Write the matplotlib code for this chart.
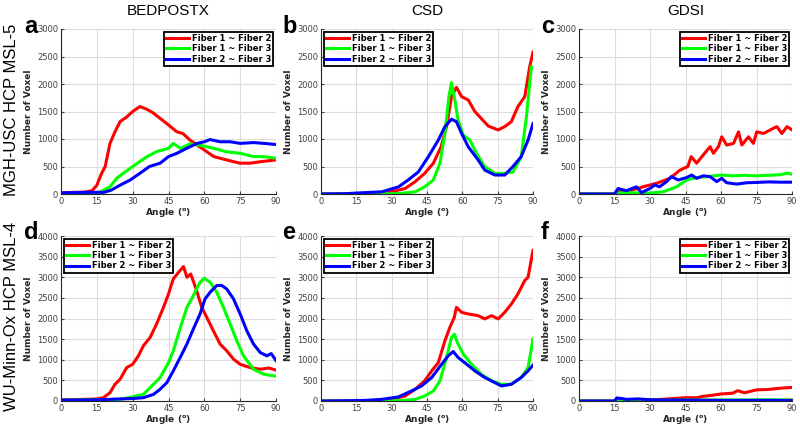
import matplotlib
matplotlib.use('Agg')
import matplotlib.pyplot as plt

# Werte (Winkel in Grad, Anzahl Voxel)
methods = ['BEDPOSTX', 'CSD', 'GDSI']
datasets = ['MGH-USC HCP MSL-5', 'WU-Minn-Ox HCP MSL-4']
labels = ['Fiber 1 ~ Fiber 2', 'Fiber 1 ~ Fiber 3', 'Fiber 2 ~ Fiber 3']
letters = ['a', 'b', 'c', 'd', 'e', 'f']
x_ticks = [0, 15, 30, 45, 60, 75, 90]

# a: BEDPOSTX, MSL-5
a_red_x = [0, 5, 10, 13, 15, 17, 18.5, 20.5, 22.6, 24.7, 27.5, 30, 33, 36, 38.7, 41.5, 45, 48.5, 51, 54, 57, 60, 64, 66.6, 72, 75, 79, 84, 90]
a_red_y = [20, 30, 35, 60, 160, 375, 500, 920, 1130, 1315, 1400, 1500, 1590, 1540, 1470, 1375, 1255, 1130, 1100, 980, 890, 800, 680, 650, 590, 560, 560, 590, 620]
a_green_x = [0, 10, 15, 17, 20.5, 23.3, 26, 30, 33, 36, 40, 45, 47, 50, 54, 58, 64, 69, 75, 80.6, 85, 90]
a_green_y = [0, 10, 20, 50, 130, 285, 375, 500, 590, 680, 770, 830, 920, 830, 910, 890, 830, 770, 740, 680, 680, 650]
a_blue_x = [0, 10, 18, 21, 24.7, 29, 33, 37, 41.5, 45, 48.5, 52.6, 57, 60, 62.4, 66.6, 70.8, 75, 80.6, 85, 90]
a_blue_y = [20, 30, 30, 70, 160, 255, 375, 500, 560, 680, 740, 830, 920, 950, 990, 950, 950, 920, 935, 920, 900]

# b: CSD, MSL-5
b_red_x = [0, 20, 25, 30, 35.7, 40, 44, 47.7, 51, 53.3, 55.4, 57.5, 59.7, 62.5, 65.3, 68, 71, 75.2, 78, 80.8, 83.6, 86.5, 88.6, 90]
b_red_y = [0, 5, 15, 40, 100, 225, 375, 560, 860, 1225, 1770, 1940, 1770, 1710, 1500, 1375, 1235, 1165, 1225, 1315, 1590, 1770, 2315, 2580]
b_green_x = [0, 30, 35, 40, 44, 47.7, 50.5, 52.6, 54.3, 55.4, 56.8, 58.2, 60.4, 63.2, 66, 69.5, 73.8, 78, 81.5, 85, 87.2, 89.3, 90]
b_green_y = [0, 5, 15, 40, 130, 255, 560, 1100, 1770, 2025, 1710, 1345, 1070, 980, 740, 500, 375, 375, 400, 680, 1400, 2315, 2300]
b_blue_x = [0, 10, 18.8, 25.8, 32.9, 37, 41.3, 45.6, 49.8, 52.6, 55.4, 57.5, 59.7, 62.5, 66.7, 69.5, 73.8, 78, 81.5, 85, 87.9, 90]
b_blue_y = [0, 5, 25, 40, 130, 255, 400, 680, 980, 1225, 1360, 1315, 1100, 860, 620, 435, 345, 345, 500, 680, 980, 1280]

# c: GDSI, MSL-5
c_red_x = [0, 15, 15.8, 21.5, 27, 32.8, 38.4, 42.7, 46, 47.4, 49.7, 52.5, 55.4, 56.8, 58.9, 60.3, 62.4, 65.3, 67.4, 68.8, 71.6, 73.7, 75.1, 78, 80.8, 83.6, 85.7, 87.9, 90]
c_red_y = [0, 0, 40, 60, 130, 195, 285, 435, 500, 680, 560, 710, 860, 740, 860, 1040, 890, 920, 1130, 890, 1040, 920, 1130, 1100, 1165, 1225, 1100, 1225, 1165]
c_green_x = [0, 15, 17, 21.5, 28.5, 35.6, 41.2, 45.5, 49.7, 54, 60, 65, 70, 75, 80, 85, 88, 90]
c_green_y = [0, 0, 20, 25, 10, 40, 130, 255, 300, 315, 345, 330, 340, 330, 340, 350, 380, 360]
c_blue_x = [0, 15, 16.5, 20, 24.3, 26.4, 30, 32, 34, 37, 39, 42, 45.5, 47.6, 49.7, 52.5, 55.4, 58.2, 60.3, 62.4, 66.7, 70.9, 75, 80, 85, 90]
c_blue_y = [0, 0, 100, 60, 130, 25, 100, 165, 130, 225, 315, 255, 300, 345, 285, 330, 315, 225, 285, 205, 180, 205, 210, 220, 215, 215]

# d: BEDPOSTX, MSL-4
d_red_x = [0, 10, 15, 17.7, 20.5, 22.6, 24.7, 27.5, 30, 32.4, 34.5, 37.3, 40, 42.9, 45, 47, 49.2, 51.3, 52.7, 54.3, 56.8, 58.9, 61, 63.8, 66.6, 69.4, 72.2, 75, 79.2, 83.4, 87, 90]
d_red_y = [30, 40, 50, 80, 200, 405, 525, 810, 890, 1095, 1340, 1540, 1865, 2270, 2595, 2960, 3120, 3260, 3000, 3080, 2675, 2270, 2030, 1700, 1380, 1215, 1015, 890, 810, 770, 800, 750]
d_green_x = [0, 15, 24.7, 30, 34.5, 38.7, 41.5, 45, 47, 50, 52.7, 55.4, 58.2, 60, 62.4, 65.2, 68, 70.8, 73.6, 76.4, 80.6, 84.8, 90]
d_green_y = [20, 30, 40, 100, 160, 405, 570, 930, 1215, 1785, 2270, 2555, 2880, 2975, 2880, 2635, 2270, 1865, 1460, 1095, 770, 650, 600]
d_blue_x = [0, 15, 30, 34.5, 38.7, 41.5, 44.3, 47, 49.9, 52.7, 55.4, 58.2, 60.3, 62.4, 65.2, 67.3, 69.4, 72.2, 75, 77.8, 80.6, 83.4, 86.2, 88, 90]
d_blue_y = [20, 30, 60, 80, 160, 285, 445, 730, 1055, 1380, 1745, 2110, 2475, 2635, 2800, 2800, 2715, 2475, 2110, 1700, 1380, 1175, 1095, 1150, 980]

# e: CSD, MSL-4
e_red_x = [0, 20, 25, 30, 35.7, 40, 44, 47, 49.8, 52.6, 54.7, 56.6, 57.5, 59.7, 62.5, 66.7, 69.5, 72.4, 75.2, 78, 80.8, 83.6, 86.5, 87.9, 90]
e_red_y = [0, 5, 15, 40, 120, 285, 490, 730, 930, 1460, 1785, 2030, 2270, 2150, 2110, 2070, 1990, 2070, 1990, 2150, 2350, 2595, 2920, 3000, 3650]
e_green_x = [0, 30, 35, 40, 44, 47.7, 50.5, 53.3, 55.4, 56.6, 58.2, 60.4, 63.9, 68, 72.4, 76.6, 80.8, 85, 87.9, 90]
e_green_y = [0, 5, 15, 40, 120, 245, 490, 1055, 1540, 1620, 1380, 1135, 890, 650, 490, 405, 405, 570, 810, 1500]
e_blue_x = [0, 10, 18.8, 25.8, 32.9, 38.5, 42.7, 47, 51.2, 54, 56.1, 58.2, 61, 65.3, 69.5, 73.8, 76.6, 80.8, 85, 87.9, 90]
e_blue_y = [0, 5, 15, 40, 100, 245, 365, 570, 890, 1095, 1200, 1055, 930, 730, 570, 445, 365, 405, 570, 730, 870]

# f: GDSI, MSL-4
f_red_x = [0, 15, 16, 18, 20, 25, 30, 35, 40, 45, 50, 52, 55, 60, 65, 67, 70, 75, 80, 85, 90]
f_red_y = [0, 0, 70, 50, 30, 40, 30, 40, 60, 80, 80, 110, 130, 170, 190, 250, 200, 270, 280, 310, 330]
f_green_x = [0, 15, 16, 20, 25, 30, 40, 50, 60, 70, 80, 90]
f_green_y = [0, 0, 25, 20, 15, 20, 20, 25, 25, 25, 30, 25]
f_blue_x = [0, 15, 16, 18, 20, 25, 30, 40, 50, 60, 70, 80, 90]
f_blue_y = [0, 0, 70, 60, 40, 50, 30, 25, 20, 15, 15, 15, 15]

panels = [
    [(a_red_x, a_red_y), (a_green_x, a_green_y), (a_blue_x, a_blue_y)],
    [(b_red_x, b_red_y), (b_green_x, b_green_y), (b_blue_x, b_blue_y)],
    [(c_red_x, c_red_y), (c_green_x, c_green_y), (c_blue_x, c_blue_y)],
    [(d_red_x, d_red_y), (d_green_x, d_green_y), (d_blue_x, d_blue_y)],
    [(e_red_x, e_red_y), (e_green_x, e_green_y), (e_blue_x, e_blue_y)],
    [(f_red_x, f_red_y), (f_green_x, f_green_y), (f_blue_x, f_blue_y)],
]
y_max = [3000, 3000, 3000, 4000, 4000, 4000]
legend_loc = ['upper right', 'upper left', 'upper right', 'upper left', 'upper left', 'upper right']
colors = ['#ff0000', '#00ff00', '#0000ff']

W, H = 800, 429
fig = plt.figure(figsize=(8, 4.29), dpi=100)

# Achsenpositionen in Pixeln (links, rechts) und (oben, unten)
cols = [(61, 276), (321, 533), (579, 792)]
rows = [(29, 194), (236, 401)]
letter_pos = [(24, 33), (282, 33), (541, 33), (24, 239), (282, 239), (541, 239)]

for i in range(6):
    r, c = divmod(i, 3)
    l, rr = cols[c]
    t, b = rows[r]
    ax = fig.add_axes([l / W, 1 - b / H, (rr - l) / W, (b - t) / H])
    for (xs, ys), col, lab in zip(panels[i], colors, labels):
        ax.plot(xs, ys, color=col, lw=2.2, label=lab)
    ax.set_xlim(0, 90)
    ax.set_ylim(0, y_max[i])
    ax.set_xticks(x_ticks)
    ax.set_yticks(range(0, y_max[i] + 1, 500))
    ax.grid(True, color='#dcdcdc', lw=0.8)
    ax.set_axisbelow(True)
    for s in ['top', 'right']:
        ax.spines[s].set_visible(False)
    for s in ['left', 'bottom']:
        ax.spines[s].set_color('#262626')
        ax.spines[s].set_linewidth(0.8)
    ax.tick_params(direction='in', length=2, labelsize=6, colors='#404040', pad=2)
    ax.set_ylabel('Number of Voxel', fontsize=6.5, fontweight='bold', color='#262626', labelpad=3)
    ax.set_xlabel(r'Angle ($\mathbf{^o}$)', fontsize=6.5, fontweight='bold', color='#262626', labelpad=0.5)
    leg = ax.legend(loc=legend_loc[i], prop={'size': 6, 'weight': 'bold'}, fancybox=False,
                    edgecolor='black', framealpha=1, borderpad=0.25, labelspacing=0.15,
                    handlelength=2.8, handletextpad=0.3, borderaxespad=0.35)
    leg.get_frame().set_linewidth(1.3)
    if r == 0:
        ax.set_title(methods[c], fontsize=11, family='Liberation Sans', pad=10)
    lx, ly = letter_pos[i]
    fig.text(lx / W, 1 - ly / H, letters[i], fontsize=17, fontweight='bold',
             family='Liberation Sans', va='baseline', ha='left')

fig.text(12 / W, 1 - 110 / H, datasets[0], rotation=90, fontsize=12,
         family='Liberation Sans', ha='center', va='center')
fig.text(12 / W, 1 - 316 / H, datasets[1], rotation=90, fontsize=12,
         family='Liberation Sans', ha='center', va='center')

fig.savefig('out.png', dpi=100)
plt.close()
